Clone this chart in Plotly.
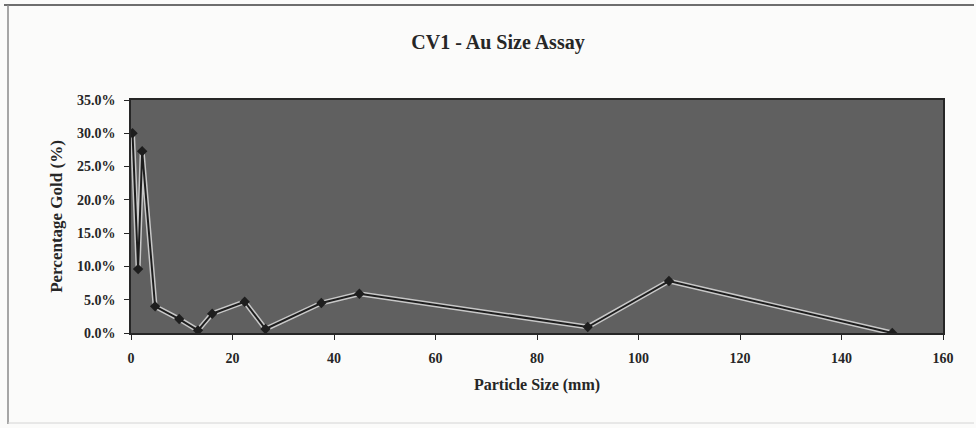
import plotly.graph_objects as go

# Sieve sizes (mm) and share of gold reporting to each size fraction (%)
particle_size_mm = [0.3, 1.4, 2.2, 4.75, 9.5, 13.2, 16.0, 22.4, 26.5, 37.5, 45.0, 90.0, 106.0, 150.0]
gold_pct = [30.0, 9.6, 27.3, 4.0, 2.1, 0.4, 2.9, 4.7, 0.6, 4.5, 5.9, 0.9, 7.8, 0.0]

title_text = "CV1 - Au Size Assay"
x_title = "Particle Size (mm)"
y_title = "Percentage Gold (%)"

W, H = 976, 428
L, R, T, B = 131, 33, 100, 95
pw, ph = W - L - R, H - T - B

serif = "Liberation Serif, Times New Roman, serif"
ink = "#262626"

fig = go.Figure()

# light halo under the series line
fig.add_trace(go.Scatter(
    x=particle_size_mm, y=gold_pct, mode="lines",
    line=dict(color="#c8c8c8", width=5),
    hoverinfo="skip", showlegend=False,
))
fig.add_trace(go.Scatter(
    x=particle_size_mm, y=gold_pct, mode="lines+markers",
    line=dict(color="#1e1e1e", width=2),
    marker=dict(symbol="diamond", size=8, color="#1e1e1e"),
    showlegend=False,
))

def px_to_paper_x(px):
    return (px - L) / pw

def px_to_paper_y(py):
    return (H - B - py) / ph

# chart frame edges: heavy top, left rule, faint bottom
frame = [
    (4, 5, 974, 5, "#6e6e6e", 2),
    (8, 5, 8, 424, "#8a8a8a", 1.5),
    (8, 423, 974, 423, "#d4d4d4", 1),
]
for x0, y0, x1, y1, col, w in frame:
    fig.add_shape(
        type="line", xref="paper", yref="paper",
        x0=px_to_paper_x(x0), x1=px_to_paper_x(x1),
        y0=px_to_paper_y(y0), y1=px_to_paper_y(y1),
        line=dict(color=col, width=w), layer="below",
    )

fig.update_layout(
    width=W, height=H,
    margin=dict(l=L, r=R, t=T, b=B),
    paper_bgcolor="#fbfbfa",
    plot_bgcolor="#606060",
    title=dict(
        text=title_text, x=498 / W, xanchor="center",
        y=1 - 42 / H, yanchor="middle",
        font=dict(family=serif, size=20, color=ink, weight="bold"),
    ),
    xaxis=dict(
        range=[0, 160], dtick=20, tick0=0,
        showgrid=False, zeroline=False,
        showline=True, linecolor=ink, linewidth=1.5, mirror=True,
        ticks="outside", ticklen=5, tickcolor=ink, ticklabelstandoff=6,
        tickfont=dict(family=serif, size=14, color=ink, weight="bold"),
        title=dict(text=x_title, standoff=14,
                   font=dict(family=serif, size=16, color=ink, weight="bold")),
    ),
    yaxis=dict(
        range=[0, 35], dtick=5, tick0=0,
        tickformat=".1f", ticksuffix="%",
        showgrid=False, zeroline=False,
        showline=True, linecolor=ink, linewidth=1.5, mirror=True,
        ticks="outside", ticklen=5, tickcolor=ink, ticklabelstandoff=6,
        tickfont=dict(family=serif, size=14, color=ink, weight="bold"),
        title=dict(text=y_title, standoff=10,
                   font=dict(family=serif, size=17, color=ink, weight="bold")),
    ),
)

fig.write_html("out.html")
